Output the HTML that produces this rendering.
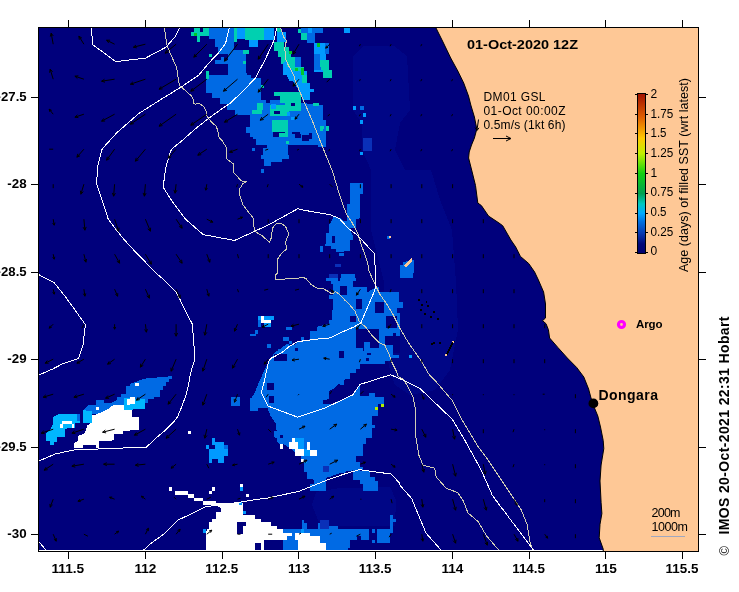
<!DOCTYPE html>
<html><head><meta charset="utf-8"><title>SST age map</title>
<style>
html,body{margin:0;padding:0;background:#fff;overflow:hidden}
svg{display:block}
text{font-family:"Liberation Sans",Arial,sans-serif;fill:#000}
.b{font-weight:bold}
</style></head><body>
<svg width="739" height="592" viewBox="0 0 739 592">
<defs>
<clipPath id="fr"><rect x="39" y="28" width="659" height="523"/></clipPath>
<linearGradient id="cb" x1="0" y1="1" x2="0" y2="0">
<stop offset="0" stop-color="#000070"/>
<stop offset="0.06" stop-color="#000878"/>
<stop offset="0.125" stop-color="#0838b0"/>
<stop offset="0.2" stop-color="#0070e0"/>
<stop offset="0.25" stop-color="#00a8ff"/>
<stop offset="0.31" stop-color="#00c8c0"/>
<stop offset="0.375" stop-color="#00a050"/>
<stop offset="0.5" stop-color="#10d010"/>
<stop offset="0.625" stop-color="#c0f000"/>
<stop offset="0.72" stop-color="#ffc800"/>
<stop offset="0.85" stop-color="#e06000"/>
<stop offset="1" stop-color="#a01000"/>
</linearGradient>
</defs>
<rect width="739" height="592" fill="#fff"/>
<g clip-path="url(#fr)">
<rect x="39" y="28" width="659" height="523" fill="#00007c"/>
<!--DATA-->
<g shape-rendering="crispEdges"><path fill="#000686" d="M364,46 394,46 407,56 410,110 400,123 395,150 405,170 431,170 440,200 452,230 456,282 458,330 450,370 435,390 410,395 395,385 390,370 384,340 384,282 371,230 371,170 362,150 362,123 353,110 353,56Z"/><path fill="#000686" d="M316,492 340,488 390,487 396,500 395,525 390,536 330,536 318,520 312,505Z"/><path fill="#006ae4" d="M209.1,28 234.2,28 234.2,50 246,50 246,64.2 246.6,74.6 251,74.6 251,79 254,79 254,92.5 260,92.5 260,101.4 258.5,101.4 258.5,110.4 254,110.4 254,115 234.7,115 234.7,110.4 227.2,110.4 227.2,104.4 219.8,104.4 219.8,98.4 212.3,98.4 212.3,92.5 206.4,92.5 206.4,79 209.4,79 209.4,74.6 228,74.6 228,63.5 215.2,63.5 215.2,60.3 220.9,60.3 220.9,57 224.1,57 224.1,60.3 228.2,60.3 228.2,53.8 218,53.8 218,46.5 215.2,46.5 215.2,39 209.1,39Z"/><path fill="#00d0b0" d="M194.1,28 209.1,28 209.1,35.9 200.1,35.9 200.1,42.4 196.9,42.4 196.9,35.9 191.2,35.9 191.2,31.9 194.1,31.9Z"/><path fill="#00007c" d="M200.1,28 203,28 203,31.9 200.1,31.9Z"/><path fill="#00c828" d="M194.1,33 196.9,33 196.9,35.5 194.1,35.5Z"/><path fill="#00d0b0" d="M234.2,28 237.1,28 237.1,42.4 234.2,42.4Z"/><path fill="#009aff" d="M237.1,28 246,28 246,39 237.1,39Z"/><path fill="#00d0b0" d="M245,28 264,28 264,40 245,40Z"/><path fill="#009aff" d="M264,28 274,28 274,40 264,40Z"/><path fill="#009aff" d="M249,40 258,40 258,47 249,47Z"/><path fill="#00d0b0" d="M209.1,53.8 212.3,53.8 212.3,57 209.1,57Z"/><path fill="#00d0b0" d="M243.2,50.1 248.9,50.1 248.9,53.8 243.2,53.8Z"/><path fill="#00d0b0" d="M243.2,61.1 246,61.1 246,64 243.2,64Z"/><path fill="#00d0b0" d="M206.2,70.8 209.1,70.8 209.1,79 206.2,79Z"/><path fill="#00d0b0" d="M277.1,28 280.7,28 284,42.4 284,47.3 288.8,47.3 288.8,50.5 290.5,50.5 290.5,57 295.3,57 295.3,63.5 301,63.5 301,75 283.2,75 283.2,63.5 280.7,63.5 280.7,57 277.6,57 277.6,50.5 274.2,50.5 274.2,42.4 277.1,42.4Z"/><path fill="#009aff" d="M277.1,32 285.6,32 285.6,42.4 277.1,42.4Z"/><path fill="#009aff" d="M283.2,63.5 290.5,63.5 290.5,75 283.2,75Z"/><path fill="#006ae4" d="M295.3,57 301,57 301,75 295.3,75Z"/><path fill="#00c828" d="M289,50.5 292,50.5 292,54 289,54Z"/><path fill="#006ae4" d="M301.2,28.2 322.7,28.2 322.7,33 301.2,33Z"/><path fill="#006ae4" d="M307.1,33 314.6,33 314.6,42.6 307.1,42.6Z"/><path fill="#00d0b0" d="M298.2,28.5 301.2,28.5 301.2,33 298.2,33Z"/><path fill="#00d0b0" d="M301.2,33 307.1,33 307.1,39.7 301.2,39.7Z"/><path fill="#009aff" d="M307.9,28.2 312.3,28.2 312.3,33 307.9,33Z"/><path fill="#009aff" d="M313.8,42.6 325.7,42.6 325.7,43.4 329,43.4 329,53.8 325.7,53.8 325.7,71.7 313.8,71.7Z"/><path fill="#006ae4" d="M313.8,53.8 319.8,53.8 319.8,70.2 313.8,70.2Z"/><path fill="#006ae4" d="M325,43.4 329,43.4 329,53.8 325,53.8Z"/><path fill="#00d0b0" d="M319.8,61.2 329,61.2 329,70.2 319.8,70.2Z"/><path fill="#00d0b0" d="M322.7,70.2 331.7,70.2 331.7,78.4 322.7,78.4Z"/><path fill="#00c828" d="M316.8,43.4 319.8,43.4 319.8,47.1 316.8,47.1Z"/><path fill="#009aff" d="M344.3,28.2 349.5,28.2 349.5,33 344.3,33Z"/><path fill="#006ae4" d="M352.5,105.9 356.2,105.9 356.2,109.6 352.5,109.6Z"/><path fill="#006ae4" d="M360,105.9 363.7,105.9 363.7,109.6 360,109.6Z"/><path fill="#006ae4" d="M362.9,112.6 365.9,112.6 365.9,115 362.9,115Z"/><path fill="#006ae4" d="M228,105 300,105 300,145.2 288.2,145.2 288.2,154.9 289,154.9 289,158.6 282.3,158.6 282.3,162.3 271.1,162.3 271.1,166 264.4,166 264.4,158.6 261.4,158.6 261.4,154.9 262.9,154.9 262.9,148.2 267.4,148.2 267.4,145.2 255.5,145.2 255.5,139.2 252.5,139.2 252.5,137 249.5,137 249.5,133.3 245.8,133.3 245.8,127.3 255.5,127.3 255.5,109.5 252.5,109.5 252.5,105Z"/><path fill="#00d0b0" d="M252.5,105 267.4,105 267.4,113.2 252.5,113.2Z"/><path fill="#00d0b0" d="M273.4,105 282.3,105 282.3,111 273.4,111Z"/><path fill="#00d0b0" d="M286.8,105 300,105 300,109.5 286.8,109.5Z"/><path fill="#00d0b0" d="M267.4,111 279.3,111 279.3,119.9 267.4,119.9Z"/><path fill="#00d0b0" d="M279.3,119.9 288.2,119.9 288.2,137 279.3,137Z"/><path fill="#00d0b0" d="M271.9,123.6 279.3,123.6 279.3,127.3 271.9,127.3Z"/><path fill="#00d0b0" d="M286,140.7 289,140.7 289,144.4 286,144.4Z"/><path fill="#00007c" d="M267.4,119.9 273.4,119.9 273.4,125.8 267.4,125.8Z"/><path fill="#00007c" d="M279.3,127.3 285.3,127.3 285.3,133.3 279.3,133.3Z"/><path fill="#00007c" d="M273.4,131.8 279.3,131.8 279.3,137 273.4,137Z"/><path fill="#00007c" d="M294.2,122.9 300,122.9 300,133.3 294.2,133.3Z"/><path fill="#009aff" d="M286.8,113.2 289,113.2 289,116.9 286.8,116.9Z"/><path fill="#009aff" d="M292.7,116.9 295.7,116.9 295.7,119.9 292.7,119.9Z"/><path fill="#006ae4" d="M261.2,169 263.7,169 263.7,172.7 261.2,172.7Z"/><path fill="#006ae4" d="M251.8,148.2 254.8,148.2 254.8,151.1 251.8,151.1Z"/><path fill="#006ae4" d="M290,105 322.7,105 322.7,116.9 313.8,116.9 313.8,119.9 325.7,119.9 325.7,147.4 318.3,147.4 318.3,145.2 290,145.2Z"/><path fill="#00007c" d="M292.2,126.6 299.7,126.6 299.7,134 292.2,134Z"/><path fill="#00007c" d="M295.2,134 301.2,134 301.2,137.7 295.2,137.7Z"/><path fill="#00007c" d="M301.9,134.8 309.4,134.8 309.4,140.7 301.9,140.7Z"/><path fill="#00007c" d="M309.4,133.3 312.3,133.3 312.3,138.5 309.4,138.5Z"/><path fill="#00d0b0" d="M290,105 300.4,105 300.4,112.4 290,112.4Z"/><path fill="#009aff" d="M300.4,105 306.4,105 306.4,112.4 300.4,112.4Z"/><path fill="#00d0b0" d="M319.8,127.3 322.7,127.3 322.7,131 319.8,131Z"/><path fill="#00d0b0" d="M325.7,127.3 329,127.3 329,131 325.7,131Z"/><path fill="#009aff" d="M292.2,116.9 294.5,116.9 294.5,119.9 292.2,119.9Z"/><path fill="#009aff" d="M353.3,106.2 356.2,106.2 356.2,109.5 353.3,109.5Z"/><path fill="#009aff" d="M362.9,113.2 365.9,113.2 365.9,116.9 362.9,116.9Z"/><path fill="#009aff" d="M360,119.9 362.9,119.9 362.9,123.6 360,123.6Z"/><path fill="#009aff" d="M360,151.9 362.9,151.9 362.9,154.9 360,154.9Z"/><path fill="#0a30b8" d="M362.9,137.7 371.9,137.7 371.9,151.1 362.9,151.1Z"/><path fill="#006ae4" d="M350.3,183.1 362.9,183.1 362.9,193 350.3,193Z"/><path fill="#006ae4" d="M333.4,216.3 340.8,218.5 346.8,223.7 349.7,229.7 352.7,235.6 352.7,238.6 349.7,238.6 349.7,249 343.8,249 343.8,252 335.6,252 335.6,249 331.1,249 331.1,246 322.9,246 322.9,252 320,252 320,246 324.4,246 325.9,243.1 325.9,232.6 328.9,232.6 328.9,225.2 331.1,222.2Z"/><path fill="#00007c" d="M331.9,235.6 334.8,235.6 334.8,243.1 331.9,243.1Z"/><path fill="#006ae4" d="M338.6,252.7 343.8,252.7 343.8,256.4 338.6,256.4Z"/><path fill="#0a30b8" d="M334.8,263.9 340.8,263.9 340.8,266.9 334.8,266.9Z"/><path fill="#006ae4" d="M349.7,186.5 360,186.5 360,217.7 356.4,217.7 356.4,228.2 352.7,228.2 346.8,214.8 346.8,204.4 349.7,204.4Z"/><path fill="#006ae4" d="M350.4,186.5 363.1,186.5 363.1,193.9 359.4,193.9 359.4,219.2 356.4,219.2 356.4,228.2 350.4,228.2 350.4,237.1 353.4,237.1 353.4,240.1 349.7,240.1 349.7,250.5 340,250.5 340,220.7 346.7,220.7 346.7,204.4 349.7,204.4 349.7,193.9 350.4,193.9Z"/><path fill="#006ae4" d="M340,252.7 343.7,252.7 343.7,256.4 340,256.4Z"/><path fill="#006ae4" d="M402.5,262.4 410,260.2 414.4,259.4 414.4,273 402.5,273Z"/><path fill="#006ae4" d="M386.9,235.6 389.9,235.6 389.9,238.6 386.9,238.6Z"/><path fill="#006ae4" d="M325.9,278.4 337.8,278.4 337.8,281.4 340.8,281.4 340.8,273.9 352.7,273.9 352.7,278.4 355.7,278.4 355.7,281.4 352.7,281.4 352.7,287.3 360,287.3 360,353 287.2,353 293.2,346.1 299.1,340.9 309.5,339.4 309.5,330.5 317,330.5 317,326.8 328.9,323.8 328.9,320.1 331.9,320.1 331.9,309.7 333.4,309.7 333.4,299.2 328.9,299.2 328.9,294.8 333.4,294.8 333.4,284.4 331.1,284.4 331.1,281.4 325.9,281.4Z"/><path fill="#00007c" d="M350.5,315.6 355.7,315.6 355.7,322.3 350.5,322.3Z"/><path fill="#00007c" d="M355.7,299.2 360,299.2 360,303.7 355.7,303.7Z"/><path fill="#00007c" d="M352.7,291 357.2,291 357.2,296.3 352.7,296.3Z"/><path fill="#009aff" d="M258.2,315.6 273.8,315.6 273.8,320.1 258.2,320.1Z"/><path fill="#006ae4" d="M258.2,320.1 261.2,320.1 261.2,326.8 258.2,326.8Z"/><path fill="#009aff" d="M264.1,323.1 270.8,323.1 270.8,326.8 264.1,326.8Z"/><path fill="#ffffff" d="M261.2,316.4 264.1,316.4 264.1,323.1 261.2,323.1Z"/><path fill="#ffffff" d="M261.2,320.1 270.8,320.1 270.8,323.1 261.2,323.1Z"/><path fill="#006ae4" d="M250,333.5 256,333.5 256,336.4 250,336.4Z"/><path fill="#006ae4" d="M255.2,329.8 258.2,329.8 258.2,333.5 255.2,333.5Z"/><path fill="#006ae4" d="M285.7,326.8 291.7,326.8 291.7,329.8 285.7,329.8Z"/><path fill="#006ae4" d="M282.7,337.2 288.7,337.2 288.7,340.9 282.7,340.9Z"/><path fill="#006ae4" d="M288.7,340.9 291.7,340.9 291.7,343.9 288.7,343.9Z"/><path fill="#006ae4" d="M267.1,343.9 270.8,343.9 270.8,347.6 267.1,347.6Z"/><path fill="#006ae4" d="M300.6,337.2 303.6,337.2 303.6,340.9 300.6,340.9Z"/><path fill="#006ae4" d="M277.5,349.1 281.3,349.1 281.3,353 277.5,353Z"/><path fill="#006ae4" d="M285.7,343.9 288.7,343.9 288.7,347.6 285.7,347.6Z"/><path fill="#0a30b8" d="M328.9,273.9 337.8,273.9 337.8,277.7 328.9,277.7Z"/><path fill="#0a30b8" d="M335.6,265 340.8,265 340.8,267.2 335.6,267.2Z"/><path fill="#006ae4" d="M340,277.7 354.9,277.7 354.9,273.9 347.4,273.9 347.4,273.9 352.7,273.9 352.7,278.4 355.6,278.4 355.6,281.4 352.7,281.4 352.7,287.3 362.3,287.3 362.3,291.8 368.3,291.8 375.7,287.3 378.7,287.3 378.7,291.8 398.8,291.8 398.8,301.5 402.5,301.5 402.5,308.2 396.6,308.2 396.6,312.6 399.5,312.6 399.5,353 340,353Z"/><path fill="#006ae4" d="M347.4,273.9 352.7,273.9 352.7,278.4 347.4,278.4Z"/><path fill="#006ae4" d="M399.5,265 412.9,265 412.9,277.7 399.5,277.7Z"/><path fill="#00007c" d="M375,301.5 383.9,301.5 383.9,312.6 375,312.6Z"/><path fill="#00007c" d="M349.7,315.6 356.4,315.6 356.4,322.3 349.7,322.3Z"/><path fill="#00007c" d="M340,285.8 346.7,285.8 346.7,294.8 340,294.8Z"/><path fill="#00007c" d="M356.4,298.5 362.3,298.5 362.3,308.9 356.4,308.9Z"/><path fill="#00007c" d="M356.4,329 378.7,329 378.7,342.4 356.4,342.4Z"/><path fill="#00007c" d="M356.4,342.4 363.8,342.4 363.8,353 356.4,353Z"/><path fill="#00007c" d="M369.8,342.4 378.7,342.4 378.7,348.4 369.8,348.4Z"/><path fill="#00007c" d="M386.1,316.4 396.6,316.4 396.6,327.5 386.1,327.5Z"/><path fill="#00007c" d="M384.7,336.4 399.5,336.4 399.5,353 384.7,353Z"/><path fill="#00007c" d="M392.8,332.7 395.8,332.7 395.8,336.4 392.8,336.4Z"/><path fill="#006ae4" d="M362.3,287.3 366.8,287.3 366.8,291.8 362.3,291.8Z"/><path fill="#006ae4" d="M285.7,345 360,345 360,433 276.8,433 276,423.9 270.8,416.4 267.1,407.5 258.2,407.5 258.2,410.5 250,410.5 250,398.6 252.2,397.1 256,389.7 258.2,383.7 261.2,377.7 263.4,371.8 266.4,365.8 269.4,359.9 273.8,353.9 276.8,351 281.3,348Z"/><path fill="#006ae4" d="M267.1,345 270.8,345 270.8,348 267.1,348Z"/><path fill="#00007c" d="M273.8,353.9 286.5,353.9 286.5,361.4 273.8,361.4Z"/><path fill="#00007c" d="M294.7,348 297.6,348 297.6,351 294.7,351Z"/><path fill="#00007c" d="M267.1,383 273.8,383 273.8,389.7 267.1,389.7Z"/><path fill="#00007c" d="M269.4,396.4 273.8,396.4 273.8,403.1 269.4,403.1Z"/><path fill="#00007c" d="M338.6,351 343.8,351 343.8,357.7 338.6,357.7Z"/><path fill="#00007c" d="M355.7,345 360,345 360,348 355.7,348Z"/><path fill="#00007c" d="M360,368.8 354.2,369.6 349.7,373.3 345.3,379.2 339.3,383.7 334.8,388.2 328.9,391.1 328.9,399.3 322.9,400.1 322.9,403.8 331.9,403.8 342.3,399.3 352.7,394.9 360,384.4Z"/><path fill="#006ae4" d="M340,345 356.4,345 356.4,348 363.1,348 363.1,351 366.8,351 366.8,354.7 371.3,354.7 371.3,351 375.7,351 375.7,348 378.7,348 378.7,345 392.8,345 392.8,354.7 398.8,354.7 398.8,357.7 390.6,357.7 390.6,361.4 384.7,361.4 384.7,364.4 360.1,364.4 360.1,367.3 355.6,367.3 355.6,373.3 349.7,373.3 349.7,379.2 343.7,379.2 343.7,385.2 340,385.2Z"/><path fill="#00007c" d="M340,351 343.7,351 343.7,357.7 340,357.7Z"/><path fill="#00007c" d="M366,357.7 369,357.7 369,361.4 366,361.4Z"/><path fill="#006ae4" d="M340,401.6 354.9,396.4 369,396.4 369,392.6 375,392.6 375,397.1 383.9,397.1 383.9,403.8 378,403.8 378,416.4 372,416.4 372,433 340,433Z"/><path fill="#b4f000" d="M375,406.8 378,406.8 378,410.2 375,410.2Z"/><path fill="#b4f000" d="M380.9,403.8 383.9,403.8 383.9,406.8 380.9,406.8Z"/><path fill="#009aff" d="M409.2,354.7 412.2,354.7 412.2,357.7 409.2,357.7Z"/><path fill="#006ae4" d="M276.8,425 360,425 360,479.3 352.7,479.3 352.7,469.7 343.8,469.7 343.8,472.6 328.9,472.6 328.9,476.4 317,476.4 317,483.1 325.9,483.1 325.9,490.5 309.5,490.5 309.5,483.8 314,483.8 314,480.1 307.3,477.1 307.3,472.6 304.3,469.7 304.3,462.2 300.6,460.7 300.6,454.8 294.7,451.8 288.7,447.3 284.2,444.4 279.8,444.4 276.8,441.4 276.8,438.4 273.8,436.9 273.8,431 276.8,431Z"/><path fill="#00007c" d="M279.8,434.7 282.7,434.7 282.7,437.7 279.8,437.7Z"/><path fill="#00007c" d="M322.9,465.9 328.9,465.9 328.9,472.6 322.9,472.6Z"/><path fill="#00007c" d="M355.7,456.3 360,456.3 360,462.2 355.7,462.2Z"/><path fill="#009aff" d="M295.4,437.7 303.9,437.7 303.9,448.8 295.4,448.8Z"/><path fill="#009aff" d="M303.9,448.8 310.3,448.8 310.3,455.5 303.9,455.5Z"/><path fill="#009aff" d="M304.3,462.2 307.3,462.2 307.3,469.7 304.3,469.7Z"/><path fill="#ffffff" d="M292.4,437.7 295.4,437.7 295.4,442.1 292.4,442.1Z"/><path fill="#ffffff" d="M289,442.1 298.4,442.1 298.4,448.8 289,448.8Z"/><path fill="#ffffff" d="M295.4,448.8 303.9,448.8 303.9,455.5 295.4,455.5Z"/><path fill="#ffffff" d="M307,442.1 310.3,442.1 310.3,449.6 307,449.6Z"/><path fill="#ffffff" d="M310.3,449.6 317,449.6 317,455.5 310.3,455.5Z"/><path fill="#ffffff" d="M279.8,444.4 283,444.4 283,448.8 279.8,448.8Z"/><path fill="#ffffff" d="M300.6,458.5 303.9,458.5 303.9,462.2 300.6,462.2Z"/><path fill="#006ae4" d="M340,425 375,425 375,428 372,428 372,437.7 366,437.7 366,444.4 363.1,444.4 363.1,456.3 356.4,456.3 356.4,463 360.1,463 360.1,466.7 363.1,466.7 363.1,469.7 344.5,469.7 344.5,472.6 340,472.6Z"/><path fill="#006ae4" d="M353.4,471.1 369.8,471.1 369.8,477.1 375,477.1 375,480.8 378,480.8 378,490.5 363.1,490.5 363.1,483.8 360.1,483.8 360.1,480.1 353.4,480.1Z"/><path fill="#ffffff" d="M215.5,503.2 243,503.2 243,515.1 254.9,515.1 254.9,518.8 260,518.8 260,551 205.8,551 206.6,528.5 208.8,528.5 208.8,521.8 211.8,521.8 211.8,518.8 215.5,518.8 215.5,512.1 220.7,512.1 220.7,507.7 215.5,505.4Z"/><path fill="#00007c" d="M237.1,521.8 246,521.8 246,525.5 243,525.5 243,534.4 237.1,534.4Z"/><path fill="#00007c" d="M254.9,542.6 260,542.6 260,551 254.9,551Z"/><path fill="#ffffff" d="M175.3,491.3 188,491.3 188,494.6 175.3,494.6Z"/><path fill="#ffffff" d="M188,494.3 193.9,494.3 193.9,498 188,498Z"/><path fill="#ffffff" d="M193.9,498 202.8,498 202.8,501.3 193.9,501.3Z"/><path fill="#ffffff" d="M202.8,501 215.5,501 215.5,505.4 202.8,505.4Z"/><path fill="#ffffff" d="M169.1,486.8 172,486.8 172,490.5 169.1,490.5Z"/><path fill="#ffffff" d="M208.8,490.5 211.8,490.5 211.8,494.3 208.8,494.3Z"/><path fill="#ffffff" d="M211.8,486.8 214.8,486.8 214.8,490.5 211.8,490.5Z"/><path fill="#ffffff" d="M240.1,483.8 243,483.8 243,486.8 240.1,486.8Z"/><path fill="#ffffff" d="M246,493.5 249,493.5 249,497.2 246,497.2Z"/><path fill="#009aff" d="M202.8,529.2 206.3,529.2 206.3,533 202.8,533Z"/><path fill="#009aff" d="M240.1,486.8 243,486.8 243,490.5 240.1,490.5Z"/><path fill="#009aff" d="M243,511.4 246,511.4 246,514.4 243,514.4Z"/><path fill="#009aff" d="M239.3,501.7 242.3,501.7 242.3,504.7 239.3,504.7Z"/><path fill="#006ae4" d="M282.7,529.2 302.1,529.2 302.1,519.6 304.3,519.6 304.3,522.5 306.6,522.5 306.6,529.2 317.7,529.2 317.7,522.5 320,522.5 320,519.6 325.9,519.6 325.9,525.5 331.1,525.5 331.1,529.2 360,529.2 360,551 282.7,551Z"/><path fill="#0a30b8" d="M320,519.6 328.9,519.6 328.9,528.5 320,528.5Z"/><path fill="#ffffff" d="M250,515.1 255.2,515.1 255.2,518.8 261.2,518.8 261.2,521.8 270.8,521.8 270.8,525.5 276.8,525.5 276.8,529.2 282.7,529.2 282.7,533.3 292.4,533.3 292.4,535.9 286.5,535.9 286.5,539.7 264.1,539.7 264.1,551 250,551Z"/><path fill="#00007c" d="M255.2,542.6 261.2,542.6 261.2,551 255.2,551Z"/><path fill="#00007c" d="M264.1,539.7 281.3,539.7 281.3,551 264.1,551Z"/><path fill="#ffffff" d="M294.7,533 310.3,533 310.3,535.9 320,535.9 320,543.4 325.9,543.4 325.9,551 297.6,551 297.6,539.7 294.7,539.7Z"/><path fill="#009aff" d="M301.4,529.2 304.3,529.2 304.3,533 301.4,533Z"/><path fill="#009aff" d="M304.3,463 307.3,463 307.3,469.7 304.3,469.7Z"/><path fill="#006ae4" d="M304.3,463 360,463 360,469 343.8,471.9 328.9,477.1 325.9,477.9 325.9,490.5 310.3,490.5 310.3,483.8 317,483.8 317,479.4 307.3,479.4 307.3,471.9 304.3,471.9Z"/><path fill="#006ae4" d="M352.7,469 360,469 360,479.4 352.7,479.4Z"/><path fill="#0a30b8" d="M322.9,466 328.9,466 328.9,471.9 322.9,471.9Z"/><path fill="#006ae4" d="M82.7,410.6 88.6,404.7 96.1,404.7 96.1,400.2 103.5,400.2 103.5,403.2 110.9,403.2 116.9,400.2 116.9,397.2 120.6,397.2 120.6,393.5 125.8,393.5 125.8,386 131.8,386 131.8,383.1 145.2,383.1 145.2,379.4 148,379.4 148,403.2 142.2,403.2 140.7,404.7 136.2,404.7 134.8,409.1 127.3,409.1 127.3,413.6 82.7,413.6Z"/><path fill="#00b6ff" d="M52.9,417.3 58.8,414.3 76.7,414.3 77.4,418.8 79.7,418.8 79.7,423.3 74.5,423.3 74.5,427.7 67.8,427.7 64.8,430 64.8,437.4 57.4,437.4 57.4,441.9 54.4,441.9 54.4,444.8 49.9,444.8 49.9,441.1 46.2,441.1 46.2,432.9 49.9,430 52.9,424Z"/><path fill="#006ae4" d="M77.4,414.3 79.7,414.3 79.7,421 77.4,421Z"/><path fill="#ffffff" d="M61.8,421 71.5,421 71.5,424 61.8,424Z"/><path fill="#ffffff" d="M59.6,424 62.6,424 62.6,427.7 59.6,427.7Z"/><path fill="#ffffff" d="M71.5,424 73.7,424 73.7,427.7 71.5,427.7Z"/><path fill="#00b6ff" d="M82.7,410.6 91.6,410.6 91.6,422.5 82.7,422.5Z"/><path fill="#00b6ff" d="M83.4,409.9 85.6,409.9 85.6,413.6 83.4,413.6Z"/><path fill="#00b6ff" d="M123.6,398 133.3,398 133.3,409.9 123.6,409.9Z"/><path fill="#ffffff" d="M98.3,413.6 108,409.1 113.9,404.7 123.6,404.7 123.6,409.9 131.8,409.9 131.8,416.6 128.8,418.1 134.8,419.5 139.2,422.5 139.2,424 134.8,425.5 133.3,430 122.8,431.4 122.8,434.4 113.9,434.4 113.9,440.4 99,441.1 99,448 73.7,448 73.7,443.4 78.2,440.4 78.2,435.9 82.7,434.4 85.6,431.4 87.1,425.5 91.6,422.5 91.6,415.8Z"/><path fill="#ffffff" d="M126.6,398.7 131.8,398.7 131.8,404.7 126.6,404.7Z"/><path fill="#00007c" d="M82.7,444.8 96.1,444.8 96.1,448 82.7,448Z"/><path fill="#ffffff" d="M96.1,406.9 99,406.9 99,409.9 96.1,409.9Z"/><path fill="#ffffff" d="M134.8,383.1 139.2,383.1 139.2,386 134.8,386Z"/><path fill="#006ae4" d="M130,383.8 144.9,378.6 169.4,376.4 171.7,376.4 171.7,379.4 168.7,379.4 168.7,382.3 165.7,382.3 165.7,386 162.7,386 162.7,389.8 159.8,389.8 159.8,396.5 153.8,396.5 153.8,399.4 144.9,399.4 144.9,403.9 138.9,403.9 130,404.7Z"/><path fill="#00b6ff" d="M130,399.4 144.9,399.4 144.9,409.1 130,409.1Z"/><path fill="#ffffff" d="M130,397.2 134.5,397.2 134.5,403.9 130,403.9Z"/><path fill="#ffffff" d="M130,410.6 132.2,410.6 132.2,413.6 130,413.6Z"/><path fill="#ffffff" d="M130,416.6 138.9,416.6 138.9,430 130,430Z"/><path fill="#ffffff" d="M188.1,431.2 191,431.2 191,434.4 188.1,434.4Z"/><path fill="#006ae4" d="M231.2,397.2 240,397.2 240,406.1 231.2,406.1Z"/><path fill="#ffffff" d="M134.5,383.1 138.9,383.1 138.9,386 134.5,386Z"/><path fill="#009aff" d="M212,438 214.9,438 214.9,442 223.8,442 223.8,444.9 227.9,444.9 227.9,455.9 223.8,455.9 223.8,462.8 218.1,462.8 218.1,459.1 212,459.1 212,462.8 209.2,462.8 209.2,449 214.9,449 214.9,444.9 212,444.9Z"/><path fill="#009aff" d="M206,444.9 208.8,444.9 208.8,449 206,449Z"/><path fill="#006ae4" d="M223.8,444.9 227.9,444.9 227.9,449 223.8,449Z"/><path fill="#fec896" d="M404,266 407,262 410,259 412.5,258 412,261 409,264 406,267.5Z"/><path fill="#fec896" d="M388.8,235.5 390.7,235.5 390.7,238.2 388.8,238.2Z"/><path fill="#00007c" d="M330,526 393.6,526 393.6,550.4 330,550.4Z"/><path fill="#006ae4" d="M330,526 338.1,526 338.1,529.4 369.2,529.4 369.2,539.5 361.1,539.5 361.1,535.5 357.1,535.5 357.1,539.5 350.3,539.5 350.3,547.7 347.6,547.7 347.6,550.4 330,550.4Z"/><path fill="#006ae4" d="M377.4,529.4 390.2,529.4 390.2,542.9 377.4,542.9Z"/><path fill="#006ae4" d="M390.2,515.2 392.9,515.2 392.9,532.8 390.2,532.8Z"/><path fill="#006ae4" d="M392.9,518.6 396.3,518.6 396.3,521.9 392.9,521.9Z"/><path fill="#006ae4" d="M371.9,529.4 374.7,529.4 374.7,532.8 371.9,532.8Z"/><path fill="#006ae4" d="M371.9,540.2 374.7,540.2 374.7,542.9 371.9,542.9Z"/><path fill="#00007c" d="M350.3,547.7 392.2,547.7 392.2,550.4 350.3,550.4Z"/><path fill="#000000" d="M453,340.5 454.5,341.5 447.5,355 446,354Z"/><path fill="#fec896" d="M452.5,340.5 454,341.5 453.5,343 452,342Z"/><path fill="#fec896" d="M445.5,353.5 447,354 446.5,356 445,355.5Z"/><path fill="#000000" d="M418,299 419.6,299 419.6,300.6 418,300.6Z"/><path fill="#000000" d="M421,304 422.6,304 422.6,305.6 421,305.6Z"/><path fill="#000000" d="M425.5,301 427.1,301 427.1,302.6 425.5,302.6Z"/><path fill="#000000" d="M427,305 428.6,305 428.6,306.6 427,306.6Z"/><path fill="#000000" d="M420,309 421.6,309 421.6,310.6 420,310.6Z"/><path fill="#000000" d="M424,313 425.6,313 425.6,314.6 424,314.6Z"/><path fill="#000000" d="M430,316 431.6,316 431.6,317.6 430,317.6Z"/><path fill="#000000" d="M433,311 434.6,311 434.6,312.6 433,312.6Z"/><path fill="#000000" d="M437,318 438.6,318 438.6,319.6 437,319.6Z"/><path fill="#000000" d="M431,343 432.6,343 432.6,344.6 431,344.6Z"/><path fill="#000000" d="M433,342 434.6,342 434.6,343.6 433,343.6Z"/><path fill="#000000" d="M439,342 440.6,342 440.6,343.6 439,343.6Z"/><path fill="#006ae4" d="M250,78.3 261,78.3 261,100.2 280.4,100.2 280.4,102.6 307.2,102.6 307.2,103.8 319.4,103.8 319.4,106.3 323.1,106.3 323.1,120.9 313.3,120.9 313.3,128.2 318.2,128.2 318.2,132 250,132Z"/><path fill="#00d0b0" d="M280.4,92.3 301.2,92.3 301.2,102.6 280.4,102.6Z"/><path fill="#00d0b0" d="M274.4,92.3 279.8,92.3 279.8,95.9 274.4,95.9Z"/><path fill="#00d0b0" d="M285.3,102.6 301.2,102.6 301.2,111.2 285.3,111.2Z"/><path fill="#00d0b0" d="M269.5,105.1 289,105.1 289,116 269.5,116Z"/><path fill="#00d0b0" d="M257.3,102.6 263.4,102.6 263.4,109.9 257.3,109.9Z"/><path fill="#00d0b0" d="M252.4,109.9 262.2,109.9 262.2,113.6 252.4,113.6Z"/><path fill="#00d0b0" d="M271.9,119.7 287.8,119.7 287.8,132 271.9,132Z"/><path fill="#00d0b0" d="M313.3,102.6 319.4,102.6 319.4,106.3 313.3,106.3Z"/><path fill="#00d0b0" d="M320,125.8 324.3,125.8 324.3,129.4 320,129.4Z"/><path fill="#00d0b0" d="M325.5,126.4 329.2,126.4 329.2,130 325.5,130Z"/><path fill="#00007c" d="M291.4,102.6 295.1,102.6 295.1,106.3 291.4,106.3Z"/><path fill="#00007c" d="M274.4,111.2 280.4,111.2 280.4,114.2 274.4,114.2Z"/><path fill="#00007c" d="M265.8,100.2 269.5,100.2 269.5,102.6 265.8,102.6Z"/><path fill="#009aff" d="M286.5,112.4 290.2,112.4 290.2,116 286.5,116Z"/><path fill="#009aff" d="M291.4,116.6 295.1,116.6 295.1,119.7 291.4,119.7Z"/><path fill="#009aff" d="M271.3,103.8 276.2,103.8 276.2,108.7 271.3,108.7Z"/><path fill="#009aff" d="M282.9,63.7 286.5,60 295.1,60 295.1,67.3 303.6,67.3 303.6,71 307.2,71 307.2,83.1 309.7,83.1 309.7,89.2 313.9,89.2 313.9,92.3 309.7,92.3 309.7,100.2 302.4,100.2 302.4,95.3 298.7,91.7 297.5,88 292.6,80.7 289,80.7 286.5,74.6 282.9,71Z"/><path fill="#00d0b0" d="M286.5,60 295.1,60 295.1,67.3 303.6,67.3 303.6,74.6 307.2,74.6 307.2,83.1 302.4,83.1 302.4,71 293.8,71 290.2,67.3 286.5,67.3Z"/><path fill="#00c828" d="M295.3,67.9 298.1,67.9 298.1,71 295.3,71Z"/><path fill="#00c828" d="M300.5,67.9 303.6,67.9 303.6,74.6 300.5,74.6Z"/><path fill="#006ae4" d="M295.1,60 301.2,60 301.2,67.3 295.1,67.3Z"/><path fill="#006ae4" d="M314.5,60 320.6,60 320.6,69.7 314.5,69.7Z"/><path fill="#00d0b0" d="M320,60 329.2,60 329.2,67.3 320,67.3Z"/><path fill="#00d0b0" d="M323.1,67.3 329.2,67.3 329.2,77.1 323.1,77.1Z"/><path fill="#00d0b0" d="M327.9,74.6 331.6,74.6 331.6,77.7 327.9,77.7Z"/><path fill="#00d0b0" d="M261.2,85.3 263.6,85.3 263.6,88.3 261.2,88.3Z"/></g>
<g fill="none" stroke-width="1" shape-rendering="crispEdges" clip-path="url(#fr)">
<polyline stroke="#d0ccb4" points="164.4,28 167.1,46 176.6,67.6 179.3,85.2 191.5,96 193.7,100 193.3,102.8 194.9,104.1 199.8,103.7 203.8,106.5 206.3,111.4 207.1,116.2 209.5,119.5 212.8,123.5 216,126 217.6,130 218.5,134.1 219.3,138.2 221.7,140 226.4,147.4 226.4,158.6 233.8,164.2 233.8,172.5 241.2,180.9 245.9,181.8 242.8,183.9 239.9,188.4 239.1,193 243,205 250,214 253,217.7 254.5,231.1 261.9,235.6 269.4,242.3 271.6,237.1 272.3,228.2 276,223.7 281.3,223.4 285.7,226.7 288.7,234.1 285.7,241.6 286.5,249 281.3,253.5 277.5,259.4 277.5,273.2 275.3,275.4 275.3,279.1 284.2,279.1 303.6,277.7 305.8,278.4 311,284.4 317,288.1 322.9,288.5 327.4,291 331.9,294 335.6,291.8 339.3,294 345.3,300.7 347.4,302.2 354.9,311.1 359.4,321.6 366,327.5 372.7,336.4 378.7,342.4 384.7,345 389.1,353.9 391.4,361.4 396.6,371.8 398.1,376.3 404.3,380 413,397.3 415.9,411.8 415.9,437.8 418.8,455.1 423.1,465.2 434.7,468.1 436.1,476.8 446.2,488.3 457.8,492.6 463.5,501.3 467.9,512.9 478,521.5 486.6,536 499.6,551"/>
<polyline stroke="#d0ccb4" points="280.7,28 284,37.6 286.4,40.8 284.8,48.1 285.6,59.5 288.8,66 293.7,75 295,80 302.6,98.4 312,120 321,143 332.7,172 339.3,193.9 343.8,207.3 346.8,214.8 351.9,222.2 357.9,234.1 362.3,247.5 367.5,262.4 369,271 375.7,285.8 380.2,294.8 387.6,305.2 393.6,315.6 399.5,327.5 405.5,337.9 410,345 420.4,359.9 429.3,374.8 434.7,380 452,400.2 460.6,417.5 478,446.4 486.6,458 498.2,475.3 509.7,492.6 521.3,509.9 527.1,524.4 530,541.7 532.9,551"/>
<polyline stroke="#fff" points="91.4,28 92.7,44.6 115.7,61.6 145.5,58.1 165.8,47.3 175.3,36.5 179.3,28"/>
<polyline stroke="#fff" points="229.4,28 226.7,37.8 225.7,43.2 218.4,53 209.6,62.2 198.9,75 182,86.5 160,100 138.7,113.6 117.1,132.5 102.2,148.8 98,165 96.8,180 96.5,183.7 102.7,202.3 108.2,219 116.6,230.2 124,239.5 135.2,251.6 140.8,257.2 155.7,273 164.2,280 175.3,291.1 179.4,298.2 184.5,309.4 192.1,323.6 193.1,333.7 194,346 194.8,360 192.5,366 190.3,374.9 188.1,386.8 185.8,395.7 181.4,407.6 177.6,416.6 173.2,422.5 165.7,430 156.8,437.4 146.4,447.1 110,448.5 73.7,450 55,454 39,461"/>
<polyline stroke="#fff" points="39,274.8 48.8,280 54.2,282.7 65,296.2 75,310 85.4,324.7 83,345 78.6,358.5 62.4,363.9 52.9,368.9 39,375"/>
<polyline stroke="#fff" points="276.7,28 274,40.5 265,60 255.1,78.4 243,91 230.7,102.8 220,110.1 208.7,118.3 194.9,129.2 180.3,142.2 173.4,147.5 170.5,151 165.8,167.7 163.1,187 172,201.2 185.4,219 203.2,234.6 234.5,240.5 250,233.4 269.4,224.4 297.6,208.8 301.4,209.6 312.5,211.8 330.4,214.8 339.3,218.5 348.2,228.2 357.9,235.6 374.2,253.5 375,265 375.7,287.3 374.2,291.8 360.8,323.1 354.2,326.8 342.3,332 330.4,337.9 314,339.4 297.6,341.7 288.7,346.9 281.3,353 270.8,358.4 268.6,361.4 264.1,382.2 261.2,392.6 267.9,406 297.6,417.2 324.4,408.3 352.7,394.9 360,384.4 390.6,374.8 402.9,380 420.2,388.7 452,419 463.5,437.8 480.9,469.5 492.4,495.5 509.7,518.6 527.1,541.7 534.3,551"/>
<polyline stroke="#fff" points="143.7,550 150,544.1 163.4,534.4 170.8,527 177.5,520.3 187.2,515.8 205.1,506.9 209.5,506.2 225.9,503.9 239.3,502.4 251.2,500.2 267.9,498 299.1,491.3 314,485.3 328.9,479.4 343.8,474.2 359.4,469.7 369.8,471.1 391.4,474.1 399.5,483.1 400,485.4 411.6,498.4 426,533.1 441.9,551"/>
<polyline stroke="#fff" points="39,542 46,550"/>
<path stroke="#fff" d="M39,550.5H603"/>
</g>
<path fill="none" stroke="#000" stroke-width="1" d="M53.2,44.2L51.2,33.2M51.2,33.2L53.3,36.0M51.2,33.2L50.3,36.6M83.9,44.2L78.9,36.2M78.9,36.2L81.9,38.1M78.9,36.2L79.3,39.7M114.6,44.2L106.6,40.2M106.6,40.2L110.1,40.2M106.6,40.2L108.7,42.9M145.4,44.2L133.4,47.2M133.4,47.2L136.0,45.0M133.4,47.2L136.8,47.9M176.1,44.2L165.1,53.2M165.1,53.2L166.6,50.0M165.1,53.2L168.5,52.4M206.8,44.2L193.8,57.2M193.8,57.2L195.0,53.9M193.8,57.2L197.1,56.0M237.5,44.2L224.5,61.2M224.5,61.2L225.2,57.8M224.5,61.2L227.6,59.6M268.2,44.2L258.2,59.2M258.2,59.2L258.7,55.7M258.2,59.2L261.3,57.4M299.0,44.2L293.0,54.2M293.0,54.2L293.3,50.7M293.0,54.2L295.9,52.3M329.7,44.2L325.7,48.2M325.7,48.2L326.5,45.7M325.7,48.2L328.1,47.3M360.4,44.2L359.4,46.2M391.1,44.2L390.1,46.2M421.8,44.2L420.8,46.2M53.2,79.2L50.2,69.2M50.2,69.2L52.6,71.8M50.2,69.2L49.6,72.7M83.9,79.2L74.9,76.2M74.9,76.2L78.4,75.8M74.9,76.2L77.4,78.6M114.6,79.2L101.6,81.2M101.6,81.2L104.5,79.2M101.6,81.2L105.0,82.2M145.4,79.2L130.4,84.2M130.4,84.2L132.9,81.8M130.4,84.2L133.8,84.6M176.1,79.2L159.1,89.2M159.1,89.2L161.0,86.3M159.1,89.2L162.6,88.9M206.8,79.2L190.8,91.2M190.8,91.2L192.4,88.1M190.8,91.2L194.2,90.5M237.5,79.2L223.5,91.2M223.5,91.2L224.9,88.0M223.5,91.2L226.9,90.3M268.2,79.2L258.2,92.2M258.2,92.2L259.0,88.8M258.2,92.2L261.4,90.6M299.0,79.2L293.0,86.2M293.0,86.2L293.9,82.8M293.0,86.2L296.2,84.8M329.7,79.2L326.7,82.2M360.4,79.2L359.4,81.2M391.1,79.2L390.1,81.2M421.8,79.2L420.8,81.2M452.6,79.2L451.6,81.2M53.2,114.2L49.2,109.2M49.2,109.2L51.7,110.4M49.2,109.2L49.8,111.9M83.9,114.2L74.9,117.2M74.9,117.2L77.4,114.8M74.9,117.2L78.4,117.6M114.6,114.2L101.6,121.2M101.6,121.2L103.7,118.4M101.6,121.2L105.1,121.0M145.4,114.2L130.4,124.2M130.4,124.2L132.1,121.2M130.4,124.2L133.8,123.7M176.1,114.2L159.1,126.2M159.1,126.2L160.8,123.1M159.1,126.2L162.5,125.6M206.8,114.2L190.8,125.2M190.8,125.2L192.5,122.2M190.8,125.2L194.3,124.7M237.5,114.2L224.5,122.2M224.5,122.2L226.4,119.3M224.5,122.2L228.0,121.8M268.2,114.2L260.2,120.2M260.2,120.2L261.8,117.1M260.2,120.2L263.7,119.5M299.0,114.2L295.0,119.2M295.0,119.2L295.6,116.5M295.0,119.2L297.5,118.0M329.7,114.2L327.7,116.2M360.4,114.2L359.4,116.2M391.1,114.2L390.1,116.2M421.8,114.2L420.8,116.2M452.6,114.2L451.6,116.2M53.2,149.2L49.2,149.2M83.9,149.2L76.9,157.2M76.9,157.2L77.8,153.8M76.9,157.2L80.1,155.8M114.6,149.2L106.6,160.2M106.6,160.2L107.3,156.8M106.6,160.2L109.7,158.5M145.4,149.2L135.4,161.2M135.4,161.2L136.2,157.8M135.4,161.2L138.5,159.8M176.1,149.2L168.1,158.2M168.1,158.2L169.0,154.8M168.1,158.2L171.3,156.9M206.8,149.2L197.8,155.2M197.8,155.2L199.6,152.2M197.8,155.2L201.3,154.7M237.5,149.2L229.5,152.2M229.5,152.2L231.8,149.8M229.5,152.2L232.8,152.5M268.2,149.2L265.2,150.2M299.0,149.2L297.0,150.2M329.7,149.2L328.7,151.2M360.4,149.2L359.4,151.2M391.1,149.2L390.1,151.2M421.8,149.2L420.8,151.2M452.6,149.2L451.6,151.2M53.2,184.2L53.2,188.2M83.9,184.2L80.9,194.2M80.9,194.2L80.4,190.7M80.9,194.2L83.3,191.6M114.6,184.2L113.6,196.2M113.6,196.2L112.4,192.9M113.6,196.2L115.4,193.2M145.4,184.2L144.4,196.2M144.4,196.2L143.1,192.9M144.4,196.2L146.1,193.2M176.1,184.2L175.1,193.2M175.1,193.2L173.9,189.9M175.1,193.2L176.9,190.3M206.8,184.2L205.8,190.2M205.8,190.2L205.0,187.6M205.8,190.2L207.4,188.0M237.5,184.2L236.5,187.2M268.2,184.2L267.2,187.2M299.0,184.2L303.0,187.2M303.0,187.2L300.6,186.7M303.0,187.2L301.8,185.0M329.7,184.2L332.7,187.2M360.4,184.2L360.4,188.2M391.1,184.2L391.1,188.2M421.8,184.2L421.8,188.2M452.6,184.2L452.6,188.2M53.2,219.2L54.2,225.2M54.2,225.2L52.6,223.0M54.2,225.2L55.0,222.6M83.9,219.2L84.9,230.2M84.9,230.2L83.1,227.2M84.9,230.2L86.2,226.9M114.6,219.2L118.6,231.2M118.6,231.2L116.2,228.7M118.6,231.2L119.1,227.7M145.4,219.2L150.4,231.2M150.4,231.2L147.7,228.9M150.4,231.2L150.6,227.7M176.1,219.2L182.1,228.2M182.1,228.2L179.1,226.4M182.1,228.2L181.6,224.7M206.8,219.2L212.8,222.2M212.8,222.2L209.9,222.2M212.8,222.2L211.0,219.9M237.5,219.2L242.5,217.2M242.5,217.2L240.8,219.1M242.5,217.2L240.0,217.0M268.2,219.2L268.2,223.2M299.0,219.2L299.0,223.2M329.7,219.2L329.7,223.2M360.4,219.2L360.4,223.2M391.1,219.2L391.1,223.2M421.8,219.2L421.8,223.2M452.6,219.2L452.6,223.2M483.3,219.2L483.3,223.2M53.2,254.2L54.2,259.2M54.2,259.2L52.7,257.2M54.2,259.2L54.8,256.8M83.9,254.2L85.9,262.2M85.9,262.2L83.8,259.7M85.9,262.2L86.6,259.0M114.6,254.2L119.6,263.2M119.6,263.2L116.8,261.2M119.6,263.2L119.4,259.7M145.4,254.2L151.4,264.2M151.4,264.2L148.4,262.3M151.4,264.2L151.0,260.7M176.1,254.2L182.1,263.2M182.1,263.2L179.1,261.4M182.1,263.2L181.6,259.7M206.8,254.2L209.8,262.2M209.8,262.2L207.4,259.9M209.8,262.2L210.1,258.9M237.5,254.2L238.5,258.2M268.2,254.2L268.2,258.2M299.0,254.2L299.0,258.2M329.7,254.2L329.7,258.2M360.4,254.2L360.4,258.2M391.1,254.2L391.1,258.2M421.8,254.2L421.8,258.2M452.6,254.2L452.6,258.2M483.3,254.2L483.3,258.2M514.0,254.2L514.0,258.2M53.2,289.2L54.2,294.2M54.2,294.2L52.7,292.2M54.2,294.2L54.8,291.8M83.9,289.2L84.9,296.2M84.9,296.2L83.3,293.7M84.9,296.2L85.8,293.4M114.6,289.2L117.6,296.2M117.6,296.2L115.3,294.2M117.6,296.2L117.8,293.1M145.4,289.2L149.4,298.2M149.4,298.2L146.7,295.9M149.4,298.2L149.5,294.7M176.1,289.2L180.1,298.2M180.1,298.2L177.4,295.9M180.1,298.2L180.2,294.7M206.8,289.2L208.8,296.2M208.8,296.2L206.8,293.9M208.8,296.2L209.3,293.2M237.5,289.2L238.5,292.2M268.2,289.2L264.2,290.2M299.0,289.2L295.0,290.2M329.7,289.2L333.7,292.2M333.7,292.2L331.3,291.7M333.7,292.2L332.6,290.0M360.4,289.2L356.4,295.2M356.4,295.2L356.8,292.2M356.4,295.2L359.0,293.7M391.1,289.2L390.1,292.2M421.8,289.2L421.8,293.2M452.6,289.2L452.6,293.2M483.3,289.2L483.3,293.2M514.0,289.2L514.0,293.2M53.2,324.2L49.2,328.2M49.2,328.2L50.1,325.7M49.2,328.2L51.7,327.3M83.9,324.2L81.9,328.2M114.6,324.2L114.6,329.2M114.6,329.2L113.6,327.0M114.6,329.2L115.7,327.0M145.4,324.2L146.4,332.2M146.4,332.2L144.6,329.5M146.4,332.2L147.4,329.2M176.1,324.2L176.1,336.2M176.1,336.2L174.6,333.0M176.1,336.2L177.6,333.0M206.8,324.2L204.8,335.2M204.8,335.2L203.9,331.8M204.8,335.2L206.9,332.4M237.5,324.2L234.5,331.2M234.5,331.2L234.4,328.1M234.5,331.2L236.9,329.2M268.2,324.2L262.2,327.2M262.2,327.2L264.0,324.9M262.2,327.2L265.1,327.2M299.0,324.2L291.0,326.2M291.0,326.2L293.5,324.1M291.0,326.2L294.2,326.9M329.7,324.2L322.7,326.2M322.7,326.2L324.9,324.2M322.7,326.2L325.7,326.7M360.4,324.2L356.4,329.2M356.4,329.2L357.0,326.5M356.4,329.2L358.9,328.0M391.1,324.2L388.1,328.2M388.1,328.2L388.6,325.8M388.1,328.2L390.3,327.1M421.8,324.2L421.8,328.2M452.6,324.2L452.6,328.2M483.3,324.2L483.3,328.2M514.0,324.2L514.0,328.2M544.7,324.2L544.7,328.2M53.2,359.2L45.2,363.2M45.2,363.2L47.3,360.5M45.2,363.2L48.6,363.2M83.9,359.2L76.9,363.2M76.9,363.2L78.7,360.5M76.9,363.2L80.1,363.0M114.6,359.2L107.6,364.2M107.6,364.2L109.2,361.3M107.6,364.2L110.9,363.6M145.4,359.2L140.4,367.2M140.4,367.2L140.7,363.7M140.4,367.2L143.3,365.3M176.1,359.2L171.1,371.2M171.1,371.2L170.9,367.7M171.1,371.2L173.7,368.9M206.8,359.2L202.8,371.2M202.8,371.2L202.4,367.7M202.8,371.2L205.2,368.7M237.5,359.2L232.5,368.2M232.5,368.2L232.7,364.7M232.5,368.2L235.4,366.2M268.2,359.2L264.2,364.2M264.2,364.2L264.9,361.5M264.2,364.2L266.8,363.0M299.0,359.2L292.0,360.2M292.0,360.2L294.4,358.5M292.0,360.2L294.8,361.1M329.7,359.2L323.7,358.2M323.7,358.2L326.3,357.4M323.7,358.2L325.9,359.8M360.4,359.2L359.4,362.2M391.1,359.2L391.1,362.2M421.8,359.2L421.8,363.2M452.6,359.2L452.6,363.2M483.3,359.2L483.3,363.2M514.0,359.2L514.0,363.2M544.7,359.2L544.7,363.2M53.2,394.2L43.2,397.2M43.2,397.2L45.8,394.8M43.2,397.2L46.7,397.8M83.9,394.2L73.9,397.2M73.9,397.2L76.5,394.8M73.9,397.2L77.4,397.8M114.6,394.2L105.6,398.2M105.6,398.2L107.9,395.5M105.6,398.2L109.1,398.3M145.4,394.2L136.4,400.2M136.4,400.2L138.1,397.2M136.4,400.2L139.8,399.7M176.1,394.2L168.1,404.2M168.1,404.2L168.9,400.8M168.1,404.2L171.2,402.7M206.8,394.2L202.8,405.2M202.8,405.2L202.4,401.7M202.8,405.2L205.3,402.8M237.5,394.2L234.5,402.2M234.5,402.2L234.2,398.9M234.5,402.2L236.9,399.9M268.2,394.2L266.2,397.2M299.0,394.2L298.0,395.2M329.7,394.2L331.7,391.2M360.4,394.2L363.4,391.2M391.1,394.2L395.1,397.2M395.1,397.2L392.7,396.7M395.1,397.2L394.0,395.0M421.8,394.2L423.8,399.2M423.8,399.2L422.0,397.5M423.8,399.2L424.0,396.7M452.6,394.2L452.6,395.2M483.3,394.2L483.3,395.2M514.0,394.2L514.0,395.2M544.7,394.2L542.7,394.2M575.4,394.2L575.4,398.2M53.2,429.2L41.2,433.2M41.2,433.2L43.7,430.8M41.2,433.2L44.7,433.6M83.9,429.2L71.9,433.2M71.9,433.2L74.4,430.8M71.9,433.2L75.4,433.6M114.6,429.2L102.6,432.2M102.6,432.2L105.3,430.0M102.6,432.2L106.1,432.9M145.4,429.2L134.4,435.2M134.4,435.2L136.4,432.4M134.4,435.2L137.9,435.0M176.1,429.2L166.1,438.2M166.1,438.2L167.4,435.0M166.1,438.2L169.4,437.2M206.8,429.2L204.8,438.2M204.8,438.2L204.0,434.8M204.8,438.2L207.0,435.5M237.5,429.2L239.5,435.2M239.5,435.2L237.6,433.2M239.5,435.2L239.9,432.4M268.2,429.2L271.2,432.2M299.0,429.2L305.0,426.2M305.0,426.2L303.2,428.5M305.0,426.2L302.1,426.2M329.7,429.2L336.7,424.2M336.7,424.2L335.1,427.1M336.7,424.2L333.4,424.8M360.4,429.2L366.4,424.2M366.4,424.2L365.1,427.1M366.4,424.2L363.3,425.0M391.1,429.2L397.1,430.2M397.1,430.2L394.5,431.0M397.1,430.2L394.9,428.6M421.8,429.2L425.8,437.2M425.8,437.2L423.1,435.1M425.8,437.2L425.8,433.8M452.6,429.2L454.6,439.2M454.6,439.2L452.4,436.4M454.6,439.2L455.4,435.8M483.3,429.2L483.3,433.2M514.0,429.2L513.0,432.2M544.7,429.2L544.7,430.2M575.4,429.2L575.4,433.2M53.2,464.2L44.2,470.2M44.2,470.2L46.0,467.2M44.2,470.2L47.7,469.7M83.9,464.2L71.9,466.2M71.9,466.2L74.8,464.2M71.9,466.2L75.3,467.2M114.6,464.2L103.6,464.2M103.6,464.2L106.8,462.7M103.6,464.2L106.8,465.7M145.4,464.2L135.4,465.2M135.4,465.2L138.3,463.4M135.4,465.2L138.6,466.4M176.1,464.2L171.1,468.2M171.1,468.2L172.3,465.7M171.1,468.2L173.8,467.6M206.8,464.2L208.8,468.2M237.5,464.2L232.5,465.2M232.5,465.2L234.5,463.7M232.5,465.2L234.9,465.8M268.2,464.2L274.2,462.2M274.2,462.2L272.2,464.1M274.2,462.2L271.5,461.8M299.0,464.2L307.0,460.2M307.0,460.2L304.9,462.9M307.0,460.2L303.5,460.2M329.7,464.2L337.7,460.2M337.7,460.2L335.6,462.9M337.7,460.2L334.2,460.2M360.4,464.2L365.4,462.2M365.4,462.2L363.7,464.1M365.4,462.2L362.9,462.0M391.1,464.2L395.1,467.2M395.1,467.2L392.7,466.7M395.1,467.2L394.0,465.0M421.8,464.2L423.8,472.2M423.8,472.2L421.8,469.7M423.8,472.2L424.5,469.0M452.6,464.2L455.6,476.2M455.6,476.2L453.3,473.5M455.6,476.2L456.3,472.8M483.3,464.2L485.3,474.2M485.3,474.2L483.2,471.4M485.3,474.2L486.2,470.8M514.0,464.2L513.0,467.2M544.7,464.2L544.7,465.2M575.4,464.2L575.4,468.2M53.2,499.2L50.2,507.2M50.2,507.2L49.9,503.9M50.2,507.2L52.6,504.9M83.9,499.2L77.9,501.2M77.9,501.2L79.9,499.3M77.9,501.2L80.7,501.6M114.6,499.2L109.6,497.2M109.6,497.2L112.2,497.0M109.6,497.2L111.4,499.1M145.4,499.2L141.4,496.2M141.4,496.2L143.8,496.7M141.4,496.2L142.5,498.4M176.1,499.2L174.1,497.2M206.8,499.2L210.8,497.2M237.5,499.2L240.5,498.2M268.2,499.2L273.2,497.2M273.2,497.2L271.5,499.1M273.2,497.2L270.7,497.0M299.0,499.2L305.0,496.2M305.0,496.2L303.2,498.5M305.0,496.2L302.1,496.2M329.7,499.2L333.7,496.2M333.7,496.2L332.6,498.4M333.7,496.2L331.3,496.7M360.4,499.2L361.4,499.2M391.1,499.2L392.1,503.2M421.8,499.2L422.8,507.2M422.8,507.2L421.1,504.5M422.8,507.2L423.9,504.2M452.6,499.2L455.6,510.2M455.6,510.2L453.3,507.6M455.6,510.2L456.2,506.8M483.3,499.2L486.3,510.2M486.3,510.2L484.0,507.6M486.3,510.2L486.9,506.8M514.0,499.2L517.0,505.2M517.0,505.2L514.7,503.4M517.0,505.2L517.0,502.3M544.7,499.2L544.7,502.2M575.4,499.2L575.4,503.2M53.2,534.2L56.2,541.2M56.2,541.2L53.9,539.2M56.2,541.2L56.3,538.1M83.9,534.2L87.9,536.2M114.6,534.2L118.6,531.2M118.6,531.2L117.5,533.4M118.6,531.2L116.2,531.7M145.4,534.2L148.4,528.2M148.4,528.2L148.3,531.1M148.4,528.2L146.1,530.0M176.1,534.2L180.1,529.2M180.1,529.2L179.5,531.9M180.1,529.2L177.6,530.4M206.8,534.2L211.8,530.2M211.8,530.2L210.6,532.7M211.8,530.2L209.1,530.8M237.5,534.2L240.5,534.2M268.2,534.2L272.2,534.2M299.0,534.2L301.0,533.2M329.7,534.2L331.7,533.2M360.4,534.2L356.4,536.2M391.1,534.2L389.1,537.2M421.8,534.2L422.8,541.2M422.8,541.2L421.2,538.7M422.8,541.2L423.7,538.4M452.6,534.2L455.6,543.2M455.6,543.2L453.1,540.7M455.6,543.2L456.0,539.7M483.3,534.2L487.3,545.2M487.3,545.2L484.8,542.8M487.3,545.2L487.6,541.7M514.0,534.2L518.0,541.2M518.0,541.2L515.3,539.4M518.0,541.2L517.8,538.0M544.7,534.2L547.7,538.2M547.7,538.2L545.5,537.1M547.7,538.2L547.2,535.8M575.4,534.2L575.4,538.2"/>
<!--/DATA-->
<!-- land -->
<path id="land" fill="#fec896" d="M436,28 L442.5,41 L450.7,58 L457.8,71 L463.7,83 L468.5,96 L470.8,105 L474.4,117 L476.8,129 L474.4,138 L471.5,145 L469.2,152 L468.6,158 L471.9,171 L475.5,185.5 L477.8,203 L481.4,205.6 L488.5,216 L499,223 L502.7,225.7 L510.9,240 L515.7,247 L520.4,256.4 L528.7,263.5 L534.6,272 L538.4,280 L543.6,292 L545.5,304 L545.5,318 L542.5,320.7 L546,323.7 L548.4,329.7 L549.6,338 L557.8,347.4 L567.3,358 L576.7,367.5 L583.8,377 L588.6,389 L591,398 L594.5,408 L597.8,416 L600.5,427 L603.2,440.5 L603.8,448.6 L601.1,465 L600,481 L601.1,502.7 L601.9,513.5 L600,524.3 L599.2,537.8 L603.2,549 L603.2,551 L698,551 L698,28 Z"/>
<polyline id="coast" fill="none" stroke="#000" stroke-width="1" points="436,28 442.5,41 450.7,58 457.8,71 463.7,83 468.5,96 470.8,105 474.4,117 476.8,129 474.4,138 471.5,145 469.2,152 468.6,158 471.9,171 475.5,185.5 477.8,203 481.4,205.6 488.5,216 499,223 502.7,225.7 510.9,240 515.7,247 520.4,256.4 528.7,263.5 534.6,272 538.4,280 543.6,292 545.5,304 545.5,318 542.5,320.7 546,323.7 548.4,329.7 549.6,338 557.8,347.4 567.3,358 576.7,367.5 583.8,377 588.6,389 591,398 594.5,408 597.8,416 600.5,427 603.2,440.5 603.8,448.6 601.1,465 600,481 601.1,502.7 601.9,513.5 600,524.3 599.2,537.8 603.2,549 603.2,551"/>
</g>
<path d="M478.5,119.5L477,130M475,127.5L477,130.5L479,127.8" stroke="#000" fill="none" stroke-width="1"/>
<!-- frame -->
<rect x="38.5" y="27.5" width="660" height="524" fill="none" stroke="#000" stroke-width="1" shape-rendering="crispEdges"/>
<g stroke="#000" stroke-width="1" shape-rendering="crispEdges">
<!-- top ticks -->
<path d="M68.5,20V27M145.5,20V27M222.5,20V27M298.5,20V27M375.5,20V27M452.5,20V27M529.5,20V27M605.5,20V27M682.5,20V27"/>
<!-- bottom ticks -->
<path d="M68.5,552V559M145.5,552V559M222.5,552V559M298.5,552V559M375.5,552V559M452.5,552V559M529.5,552V559M605.5,552V559M682.5,552V559"/>
<!-- left ticks -->
<path d="M31,97.5H38M31,184.5H38M31,272.5H38M31,359.5H38M31,447.5H38M31,534.5H38"/>
<!-- right ticks -->
<path d="M699,97.5H706M699,184.5H706M699,272.5H706M699,359.5H706M699,447.5H706M699,534.5H706"/>
</g>
<g class="b" font-size="12.5" text-anchor="end" lengthAdjust="spacingAndGlyphs">
<text x="26.6" y="101" textLength="30" lengthAdjust="spacingAndGlyphs">-27.5</text>
<text x="26.6" y="188" textLength="19.3" lengthAdjust="spacingAndGlyphs">-28</text>
<text x="26.6" y="276" textLength="30" lengthAdjust="spacingAndGlyphs">-28.5</text>
<text x="26.6" y="363" textLength="19.3" lengthAdjust="spacingAndGlyphs">-29</text>
<text x="26.6" y="451" textLength="30" lengthAdjust="spacingAndGlyphs">-29.5</text>
<text x="26.6" y="538" textLength="19.3" lengthAdjust="spacingAndGlyphs">-30</text>
</g>
<g class="b" font-size="12.5" text-anchor="middle">
<text x="67.8" y="573" textLength="32.8" lengthAdjust="spacingAndGlyphs">111.5</text>
<text x="145.4" y="573" textLength="22" lengthAdjust="spacingAndGlyphs">112</text>
<text x="221.7" y="573" textLength="32.8" lengthAdjust="spacingAndGlyphs">112.5</text>
<text x="298.9" y="573" textLength="22" lengthAdjust="spacingAndGlyphs">113</text>
<text x="375.1" y="573" textLength="32.8" lengthAdjust="spacingAndGlyphs">113.5</text>
<text x="452.4" y="573" textLength="22" lengthAdjust="spacingAndGlyphs">114</text>
<text x="528.6" y="573" textLength="32.8" lengthAdjust="spacingAndGlyphs">114.5</text>
<text x="605.9" y="573" textLength="22" lengthAdjust="spacingAndGlyphs">115</text>
<text x="682" y="573" textLength="32.8" lengthAdjust="spacingAndGlyphs">115.5</text>
</g>
<!-- title -->
<text class="b" x="467" y="48.6" font-size="13.6" textLength="111" lengthAdjust="spacingAndGlyphs">01-Oct-2020 12Z</text>
<!-- vector legend -->
<g font-size="12">
<text x="483.5" y="100.6" textLength="62" lengthAdjust="spacing">DM01 GSL</text>
<text x="483.5" y="114.5" textLength="82" lengthAdjust="spacing">01-Oct 00:00Z</text>
<text x="483.5" y="128.5" textLength="82" lengthAdjust="spacing">0.5m/s (1kt 6h)</text>
</g>
<path d="M493,138.5H510M506,136L511,138.5L506,141" stroke="#000" fill="none" stroke-width="1"/>
<!-- colorbar -->
<rect x="637.5" y="93.5" width="8" height="160" fill="url(#cb)" stroke="#000" stroke-width="1"/>
<g stroke="#000" shape-rendering="crispEdges">
<path d="M635,94.5H637M646,94.5H648M635,114.5H637M646,114.5H648M635,133.5H637M646,133.5H648M635,153.5H637M646,153.5H648M635,173.5H637M646,173.5H648M635,193.5H637M646,193.5H648M635,213.5H637M646,213.5H648M635,232.5H637M646,232.5H648M635,252.5H637M646,252.5H648"/>
</g>
<g font-size="12">
<text x="650.5" y="97.6">2</text>
<text x="650.5" y="117.5" textLength="22.8" lengthAdjust="spacingAndGlyphs">1.75</text>
<text x="650.5" y="136.5" textLength="16" lengthAdjust="spacingAndGlyphs">1.5</text>
<text x="650.5" y="156.5" textLength="22.8" lengthAdjust="spacingAndGlyphs">1.25</text>
<text x="650.5" y="176.5">1</text>
<text x="650.5" y="196.3" textLength="22.8" lengthAdjust="spacingAndGlyphs">0.75</text>
<text x="650.5" y="216.3" textLength="16" lengthAdjust="spacingAndGlyphs">0.5</text>
<text x="650.5" y="235.5" textLength="22.8" lengthAdjust="spacingAndGlyphs">0.25</text>
<text x="650.5" y="255.4">0</text>
</g>
<text font-size="12.5" transform="translate(688,272) rotate(-90)" textLength="194" lengthAdjust="spacing">Age (days) of filled SST (wrt latest)</text>
<!-- places -->
<circle cx="621.5" cy="324.5" r="3" fill="none" stroke="#ff00ff" stroke-width="3.2"/>
<text class="b" x="636" y="328" font-size="11.5" textLength="26.5" lengthAdjust="spacing">Argo</text>
<circle cx="593.4" cy="403.4" r="4.9" fill="#000"/>
<text class="b" x="598.5" y="399.5" font-size="14" textLength="59.5" lengthAdjust="spacing">Dongara</text>
<!-- bathy legend -->
<g font-size="12.5">
<text x="651.5" y="517" textLength="29" lengthAdjust="spacing">200m</text>
<text x="651.5" y="531" textLength="36.5" lengthAdjust="spacing">1000m</text>
</g>
<path d="M651,536.5H685" stroke="#a0a8c0" stroke-width="1"/>
<!-- copyright -->
<text class="b" font-size="14" transform="translate(728.5,534.5) rotate(-90)" textLength="218" lengthAdjust="spacing">IMOS 20-Oct-2021 22:31 Hobart</text>
<text font-size="13" transform="translate(728.5,555.5) rotate(-90)">©</text>
</svg>
</body></html>
